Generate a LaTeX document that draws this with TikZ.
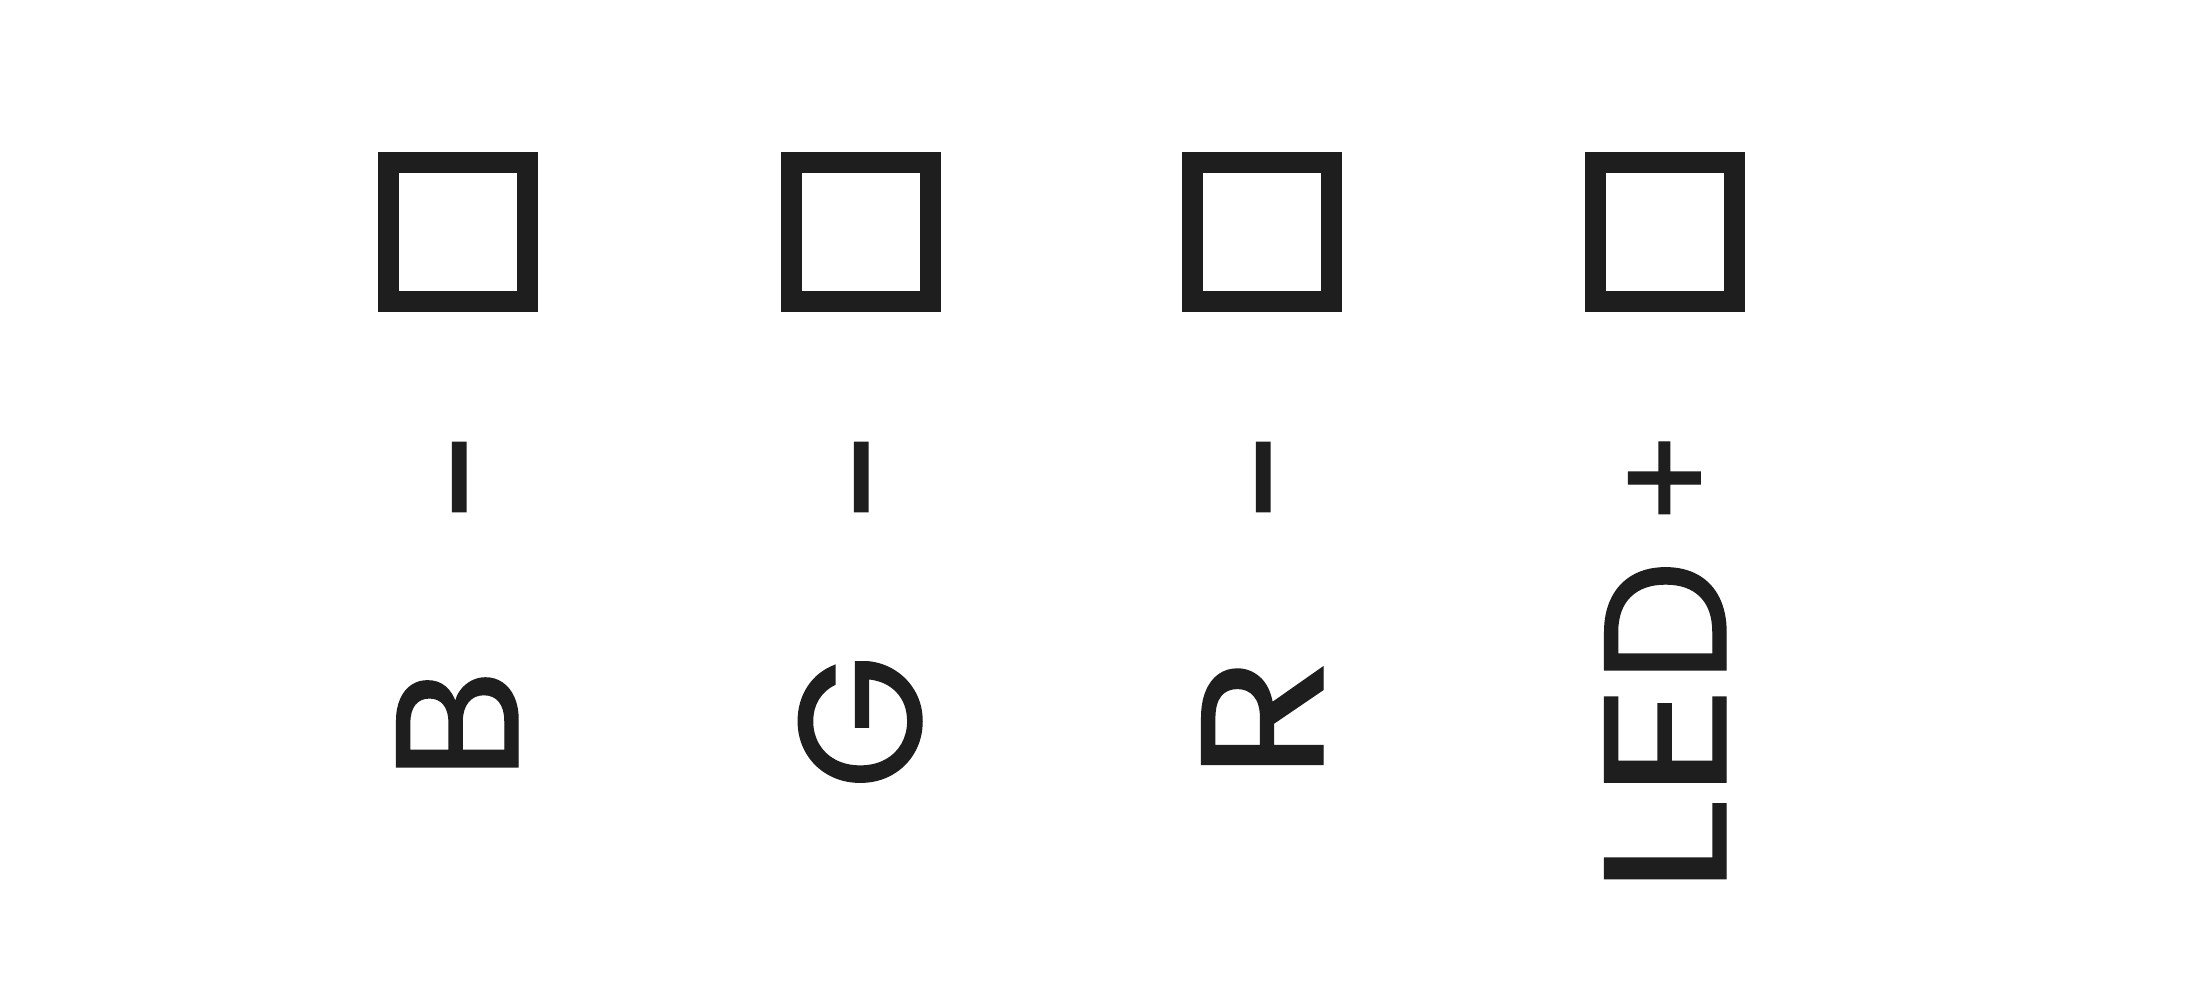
\documentclass[tikz,border=0pt]{standalone}
\usepackage{fontspec}
\setmainfont{Poppins}
\newfontfamily\lblfont{Poppins}[FakeBold=0.8]
\definecolor{ink}{RGB}{30,30,30}
\tikzset{
  pad/.style={draw=ink,line width=0.21cm,inner sep=0pt,minimum size=1.39cm},
  lbl/.style={rotate=90,anchor=base,text=ink,inner sep=0pt,font=\lblfont\fontsize{49.5pt}{50pt}\selectfont}
}
\begin{document}
\begin{tikzpicture}[x=0.01cm,y=-0.01cm]
\useasboundingbox[fill=white] (0,0) rectangle (2205,1000);
\node[pad] (p1) at (458,232) {};
\node[pad] (p2) at (861,232) {};
\node[pad] (p3) at (1262,232) {};
\node[pad] (p4) at (1665,232) {};
\node[lbl] (s1) at (523,477) {−};
\node[lbl] (s2) at (925,477) {−};
\node[lbl] (s3) at (1327,477) {−};
\node[lbl] (s4) at (1716,478) {\scalebox{0.81}{+}};
\node[lbl] (l1) at (518,725) {\scalebox{1.05}[1]{B}};
\node[lbl] (l2) at (921,722) {G};
\node[lbl] (l3) at (1323,718) {\scalebox{1.17}[1]{R}};
\node[lbl] (l4) at (1726,728) {\scalebox{1.28}[1]{L}\scalebox{1.3}[1]{E}D};
\end{tikzpicture}
\end{document}
